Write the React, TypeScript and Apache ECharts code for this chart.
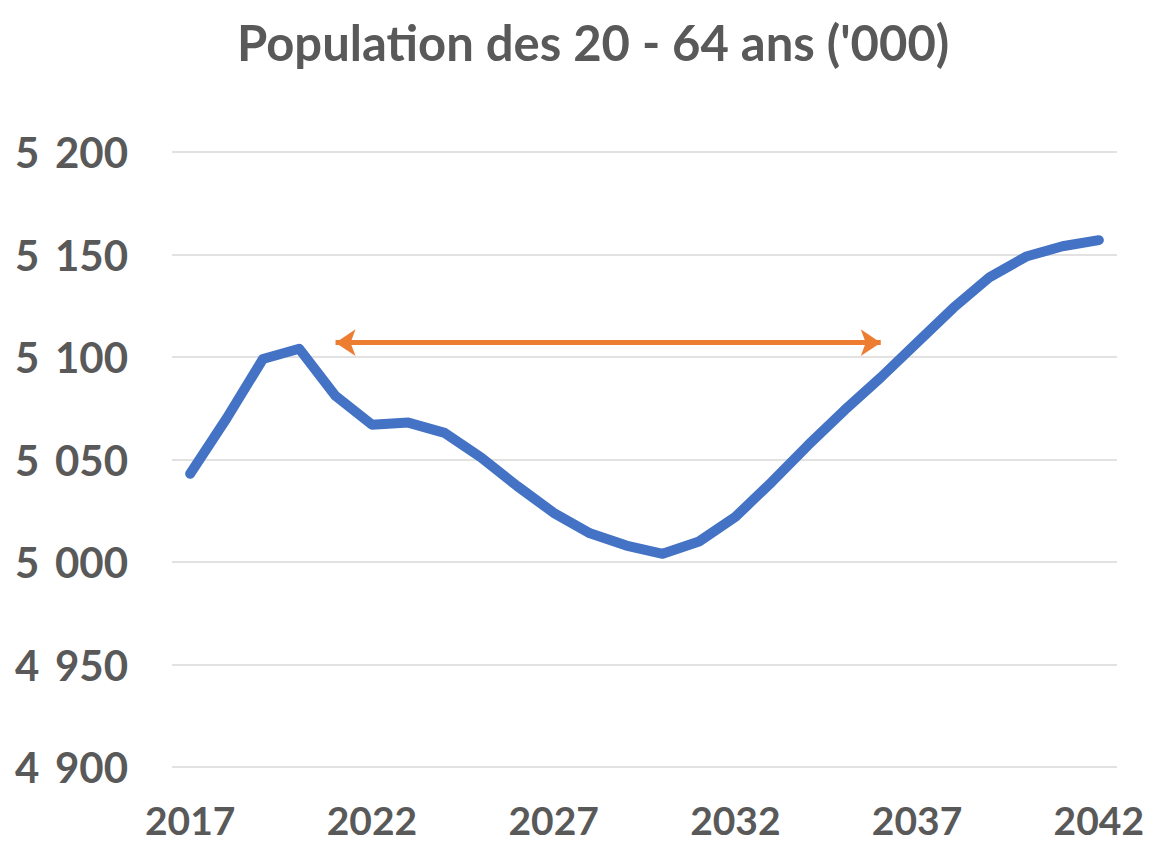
import React, { useEffect, useRef } from "react";
import * as echarts from "echarts";

const years = [
  "2017", "2018", "2019", "2020", "2021", "2022", "2023", "2024", "2025", "2026",
  "2027", "2028", "2029", "2030", "2031", "2032", "2033", "2034", "2035", "2036",
  "2037", "2038", "2039", "2040", "2041", "2042",
];
const population = [
  5043, 5070, 5099, 5104, 5081, 5067, 5068, 5063, 5051, 5037,
  5024, 5014, 5008, 5004, 5010, 5022, 5039, 5057, 5074, 5090,
  5107, 5124, 5139, 5149, 5154, 5157,
];
const arrowStart = "2021";
const arrowEnd = "2036";
const arrowValue = 5107;
const title = "Population des 20 - 64 ans ('000)";

export default function App() {
  const ref = useRef<HTMLDivElement>(null);
  useEffect(() => {
    document.body.style.margin = "0";
    if (!ref.current) return;
    const chart = echarts.init(ref.current, null, { renderer: "svg" });
    const font = "Lato, 'Open Sans', sans-serif";
    chart.setOption({
      animation: false,
      backgroundColor: "#ffffff",
      title: {
        text: title,
        left: 232,
        top: 12,
        textStyle: { fontFamily: font, fontSize: 49, fontWeight: "bold", color: "#595959" },
      },
      grid: { left: 172, right: 34, top: 152, bottom: 80 },
      xAxis: {
        type: "category",
        data: years,
        boundaryGap: true,
        axisLine: { show: false },
        axisTick: { show: false },
        axisLabel: {
          interval: 4,
          fontFamily: font,
          fontSize: 39,
          fontWeight: "bold",
          color: "#595959",
          margin: 33,
        },
      },
      yAxis: {
        type: "value",
        min: 4900,
        max: 5200,
        interval: 50,
        axisLine: { show: false },
        axisTick: { show: false },
        splitLine: { lineStyle: { color: "#d9d9d9", width: 1.5 } },
        axisLabel: {
          fontFamily: font,
          fontSize: 42,
          fontWeight: "bold",
          color: "#595959",
          margin: 44,
          formatter: (v: number) => {
            const s = String(v);
            return s.slice(0, s.length - 3) + "\u00a0\u2009" + s.slice(s.length - 3);
          },
        },
      },
      series: [
        {
          type: "line",
          data: population,
          symbol: "none",
          lineStyle: { color: "#4472C4", width: 10, cap: "round", join: "round" },
          markLine: {
            silent: true,
            symbol: ["arrow", "arrow"],
            symbolSize: [20, 20],
            label: { show: false },
            lineStyle: { color: "#ED7D31", width: 5, type: "solid" },
            data: [[{ coord: [arrowStart, arrowValue] }, { coord: [arrowEnd, arrowValue] }]],
          },
        },
      ],
    });
    return () => chart.dispose();
  }, []);
  return <div ref={ref} style={{ width: 1151, height: 847 }} />;
}
